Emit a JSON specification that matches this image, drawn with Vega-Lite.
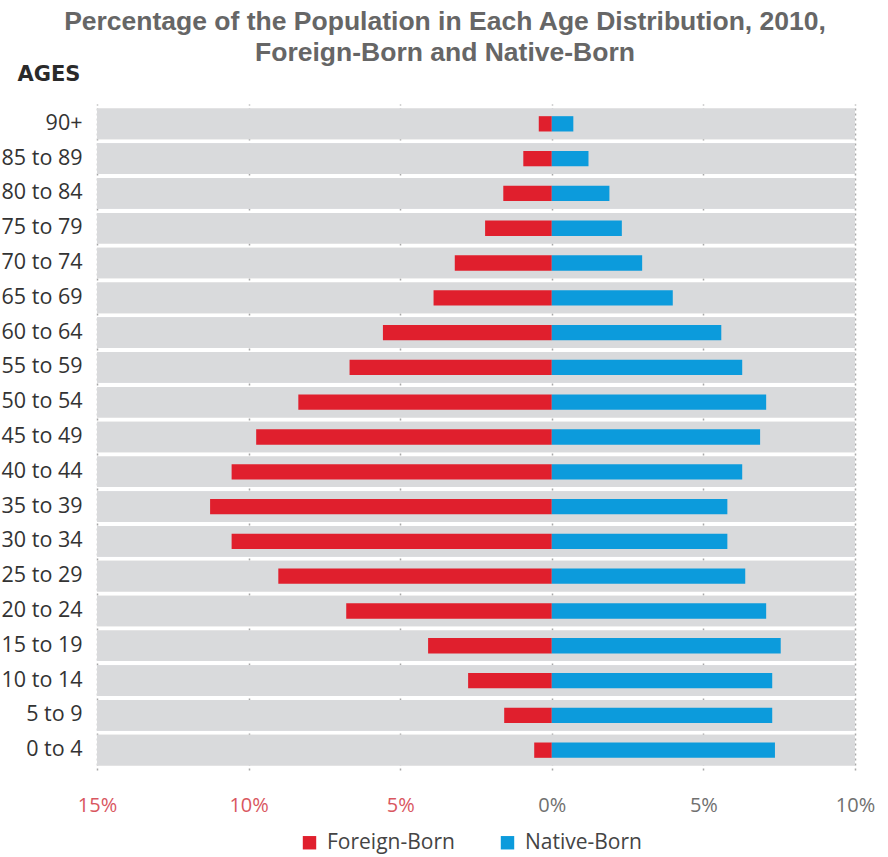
{
  "$schema": "https://vega.github.io/schema/vega-lite/v6.json",
  "autosize": {"type": "none"},
  "width": 758,
  "height": 666,
  "padding": {"left": 97, "top": 104, "right": 33, "bottom": 87},
  "background": "white",
  "title": {
    "text": ["Percentage of the Population in Each Age Distribution, 2010,", "Foreign-Born and Native-Born"],
    "font": "Liberation Sans",
    "fontSize": 26.5,
    "fontWeight": "bold",
    "color": "#666666",
    "lineHeight": 31,
    "anchor": "middle",
    "frame": "group",
    "dx": -31,
    "offset": -3
  },
  "config": {
    "view": {"stroke": null},
    "font": "Open Sans"
  },
  "data": {
    "values": [
      {"age": "90+", "origin": "Foreign-Born", "pct": -0.43},
      {"age": "90+", "origin": "Native-Born", "pct": 0.71},
      {"age": "85 to 89", "origin": "Foreign-Born", "pct": -0.94},
      {"age": "85 to 89", "origin": "Native-Born", "pct": 1.21},
      {"age": "80 to 84", "origin": "Foreign-Born", "pct": -1.6},
      {"age": "80 to 84", "origin": "Native-Born", "pct": 1.9},
      {"age": "75 to 79", "origin": "Foreign-Born", "pct": -2.2},
      {"age": "75 to 79", "origin": "Native-Born", "pct": 2.31},
      {"age": "70 to 74", "origin": "Foreign-Born", "pct": -3.2},
      {"age": "70 to 74", "origin": "Native-Born", "pct": 2.98},
      {"age": "65 to 69", "origin": "Foreign-Born", "pct": -3.9},
      {"age": "65 to 69", "origin": "Native-Born", "pct": 3.99},
      {"age": "60 to 64", "origin": "Foreign-Born", "pct": -5.57},
      {"age": "60 to 64", "origin": "Native-Born", "pct": 5.59},
      {"age": "55 to 59", "origin": "Foreign-Born", "pct": -6.67},
      {"age": "55 to 59", "origin": "Native-Born", "pct": 6.28},
      {"age": "50 to 54", "origin": "Foreign-Born", "pct": -8.36},
      {"age": "50 to 54", "origin": "Native-Born", "pct": 7.07},
      {"age": "45 to 49", "origin": "Foreign-Born", "pct": -9.75},
      {"age": "45 to 49", "origin": "Native-Born", "pct": 6.87},
      {"age": "40 to 44", "origin": "Foreign-Born", "pct": -10.56},
      {"age": "40 to 44", "origin": "Native-Born", "pct": 6.28},
      {"age": "35 to 39", "origin": "Foreign-Born", "pct": -11.27},
      {"age": "35 to 39", "origin": "Native-Born", "pct": 5.79},
      {"age": "30 to 34", "origin": "Foreign-Born", "pct": -10.56},
      {"age": "30 to 34", "origin": "Native-Born", "pct": 5.79},
      {"age": "25 to 29", "origin": "Foreign-Born", "pct": -9.02},
      {"age": "25 to 29", "origin": "Native-Born", "pct": 6.38},
      {"age": "20 to 24", "origin": "Foreign-Born", "pct": -6.78},
      {"age": "20 to 24", "origin": "Native-Born", "pct": 7.07},
      {"age": "15 to 19", "origin": "Foreign-Born", "pct": -4.08},
      {"age": "15 to 19", "origin": "Native-Born", "pct": 7.55},
      {"age": "10 to 14", "origin": "Foreign-Born", "pct": -2.76},
      {"age": "10 to 14", "origin": "Native-Born", "pct": 7.27},
      {"age": "5 to 9", "origin": "Foreign-Born", "pct": -1.57},
      {"age": "5 to 9", "origin": "Native-Born", "pct": 7.27},
      {"age": "0 to 4", "origin": "Foreign-Born", "pct": -0.58},
      {"age": "0 to 4", "origin": "Native-Born", "pct": 7.36}
    ]
  },
  "encoding": {
    "y": {
      "field": "age",
      "type": "nominal",
      "sort": ["90+", "85 to 89", "80 to 84", "75 to 79", "70 to 74", "65 to 69", "60 to 64", "55 to 59", "50 to 54", "45 to 49", "40 to 44", "35 to 39", "30 to 34", "25 to 29", "20 to 24", "15 to 19", "10 to 14", "5 to 9", "0 to 4"],
      "scale": {"paddingInner": 0.12, "paddingOuter": 0.13},
      "axis": {
        "title": "AGES",
        "titleAngle": 0,
        "titleAlign": "right",
        "titleBaseline": "alphabetic",
        "titleX": -17,
        "titleY": -24,
        "titleFont": "DejaVu Sans",
        "titleFontSize": 21,
        "titleFontWeight": "bold",
        "titleColor": "#2a2a2a",
        "domain": false,
        "ticks": false,
        "labelPadding": 15,
        "labelFontSize": 21.5,
        "labelColor": "#333333",
        "labelFont": "Open Sans"
      }
    }
  },
  "layer": [
    {
      "mark": {"type": "bar", "color": "#d9dadc", "cornerRadius": 0},
      "encoding": {
        "x": {
          "datum": -15,
          "type": "quantitative",
          "scale": {"domain": [-15, 10], "nice": false},
          "axis": {
            "title": null,
            "values": [-15, -10, -5, 0, 5, 10],
            "labelExpr": "abs(datum.value) + '%'",
            "labelColor": {"condition": {"test": "datum.value < 0", "value": "#d9575f"}, "value": "#707070"},
            "labelFontSize": 20,
            "labelFont": "Open Sans",
            "labelPadding": 25,
            "labelBaseline": "top",
            "labelFlush": false,
            "domain": false,
            "ticks": false,
            "grid": true,
            "gridColor": "#a8a8a8",
            "gridDash": [2, 3],
            "gridWidth": 1.5
          }
        },
        "x2": {"datum": 10}
      }
    },
    {
      "mark": {"type": "bar", "height": {"band": 0.5}},
      "encoding": {
        "x": {"field": "pct", "type": "quantitative"},
        "x2": {"datum": 0},
        "color": {
          "field": "origin",
          "type": "nominal",
          "scale": {"domain": ["Foreign-Born", "Native-Born"], "range": ["#e01f2d", "#0c9bdc"]},
          "legend": {
            "title": null,
            "orient": "none",
            "legendX": 202,
            "legendY": 728,
            "direction": "horizontal",
            "symbolType": "square",
            "symbolSize": 180,
            "symbolStrokeWidth": 0,
            "labelFontSize": 21,
            "labelFont": "Open Sans",
            "labelColor": "#444444",
            "labelOffset": 7,
            "columnPadding": 42,
            "padding": 0
          }
        }
      }
    },
    {
      "mark": {"type": "rule", "color": "#111111", "strokeWidth": 3},
      "encoding": {"x": {"datum": 0}}
    }
  ]
}
